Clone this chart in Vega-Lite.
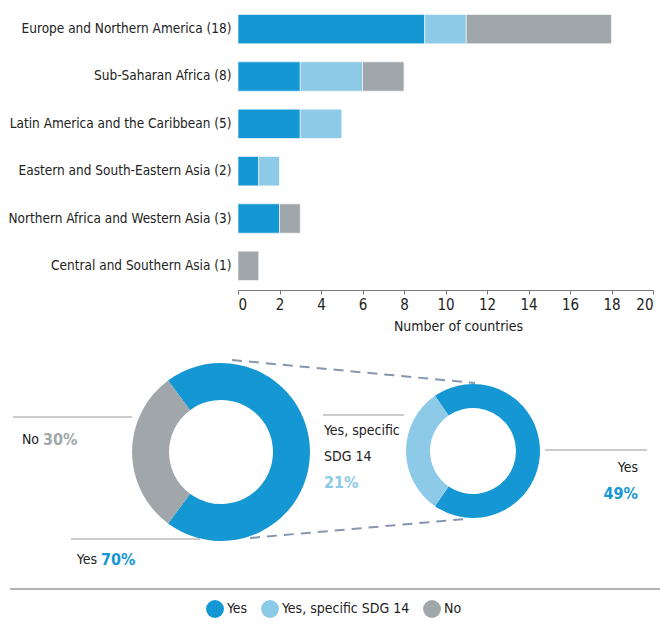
{
  "$schema": "https://vega.github.io/schema/vega-lite/v6.json",
  "padding": 5,
  "background": "white",
  "spacing": 8,
  "config": {
    "view": {"stroke": null},
    "font": "DejaVu Sans Condensed, sans-serif"
  },
  "datasets": {
    "regions": [
      {"region": "Europe and Northern America (18)", "status": "Yes", "n": 9},
      {"region": "Europe and Northern America (18)", "status": "Yes, specific SDG 14", "n": 2},
      {"region": "Europe and Northern America (18)", "status": "No", "n": 7},
      {"region": "Sub-Saharan Africa (8)", "status": "Yes", "n": 3},
      {"region": "Sub-Saharan Africa (8)", "status": "Yes, specific SDG 14", "n": 3},
      {"region": "Sub-Saharan Africa (8)", "status": "No", "n": 2},
      {"region": "Latin America and the Caribbean (5)", "status": "Yes", "n": 3},
      {"region": "Latin America and the Caribbean (5)", "status": "Yes, specific SDG 14", "n": 2},
      {"region": "Eastern and South-Eastern Asia (2)", "status": "Yes", "n": 1},
      {"region": "Eastern and South-Eastern Asia (2)", "status": "Yes, specific SDG 14", "n": 1},
      {"region": "Northern Africa and Western Asia (3)", "status": "Yes", "n": 2},
      {"region": "Northern Africa and Western Asia (3)", "status": "No", "n": 1},
      {"region": "Central and Southern Asia (1)", "status": "No", "n": 1}
    ],
    "overall": [
      {"status": "Yes", "n": 26},
      {"status": "No", "n": 11}
    ],
    "amongYes": [
      {"status": "Yes", "n": 18},
      {"status": "Yes, specific SDG 14", "n": 8}
    ]
  },
  "vconcat": [
    {
      "width": 415,
      "height": 285,
      "data": {"name": "regions"},
      "transform": [
        {"calculate": "indexof(['Yes','Yes, specific SDG 14','No'], datum.status)", "as": "ord"}
      ],
      "mark": {"type": "bar", "stroke": "white", "strokeWidth": 0.6},
      "encoding": {
        "y": {
          "field": "region",
          "type": "nominal",
          "sort": [
            "Europe and Northern America (18)",
            "Sub-Saharan Africa (8)",
            "Latin America and the Caribbean (5)",
            "Eastern and South-Eastern Asia (2)",
            "Northern Africa and Western Asia (3)",
            "Central and Southern Asia (1)"
          ],
          "scale": {"paddingInner": 0.38, "paddingOuter": 0.2},
          "axis": {
            "title": null,
            "ticks": false,
            "domain": false,
            "labelPadding": 7,
            "labelFontSize": 13.5,
            "labelColor": "#222",
            "labelLimit": 300,
            "minExtent": 233,
            "maxExtent": 233
          }
        },
        "x": {
          "field": "n",
          "type": "quantitative",
          "stack": "zero",
          "scale": {"domain": [0, 20], "nice": false},
          "axis": {
            "title": "Number of countries",
            "values": [0, 2, 4, 6, 8, 10, 12, 14, 16, 18, 20],
            "grid": false,
            "domainColor": "#777",
            "tickColor": "#777",
            "tickSize": 4,
            "labelFontSize": 15,
            "labelColor": "#222",
            "labelPadding": 3,
            "titleFontSize": 14,
            "titleFontWeight": "normal",
            "titleColor": "#222",
            "titlePadding": 7,
            "titleX": 220
          }
        },
        "color": {
          "field": "status",
          "type": "nominal",
          "scale": {
            "domain": ["Yes", "Yes, specific SDG 14", "No"],
            "range": ["#1597d4", "#8dcae8", "#a0a7aa"]
          },
          "legend": {
            "orient": "none",
            "legendX": -32,
            "legendY": 595,
            "direction": "horizontal",
            "title": null,
            "symbolType": "circle",
            "symbolSize": 320,
            "symbolStrokeWidth": 0,
            "symbolOpacity": 1,
            "labelFontSize": 14,
            "labelColor": "#222",
            "labelOffset": 3,
            "columnPadding": 13
          }
        },
        "order": {"field": "ord", "type": "quantitative"}
      }
    },
    {
      "width": 415,
      "height": 260,
      "data": {"values": [{}]},
      "resolve": {"scale": {"theta": "independent"}},
      "layer": [
        {
          "mark": {"type": "rule", "color": "#666", "strokeWidth": 1},
          "encoding": {
            "x": {"datum": 5, "type": "quantitative", "scale": {"domain": [233, 648], "nice": false, "zero": false}, "axis": null},
            "y": {"datum": 248, "type": "quantitative", "scale": {"domain": [0, 260], "nice": false, "zero": false, "reverse": true}, "axis": null},
            "x2": {"datum": 655},
            "y2": {"datum": 248}
          }
        },
        {
          "mark": {"type": "rule", "color": "#999", "strokeWidth": 1},
          "encoding": {
            "x": {"datum": 8, "type": "quantitative", "axis": null},
            "y": {"datum": 76, "type": "quantitative", "axis": null},
            "x2": {"datum": 127},
            "y2": {"datum": 76}
          }
        },
        {
          "mark": {"type": "rule", "color": "#999", "strokeWidth": 1},
          "encoding": {
            "x": {"datum": 66, "type": "quantitative", "axis": null},
            "y": {"datum": 198, "type": "quantitative", "axis": null},
            "x2": {"datum": 195},
            "y2": {"datum": 198}
          }
        },
        {
          "mark": {"type": "rule", "color": "#999", "strokeWidth": 1},
          "encoding": {
            "x": {"datum": 318, "type": "quantitative", "axis": null},
            "y": {"datum": 74, "type": "quantitative", "axis": null},
            "x2": {"datum": 399},
            "y2": {"datum": 74}
          }
        },
        {
          "mark": {"type": "rule", "color": "#999", "strokeWidth": 1},
          "encoding": {
            "x": {"datum": 540, "type": "quantitative", "axis": null},
            "y": {"datum": 109, "type": "quantitative", "axis": null},
            "x2": {"datum": 642},
            "y2": {"datum": 109}
          }
        },
        {
          "mark": {"type": "rule", "color": "#8896ad", "strokeWidth": 2, "strokeDash": [10, 7]},
          "encoding": {
            "x": {"datum": 227, "type": "quantitative", "axis": null},
            "y": {"datum": 19, "type": "quantitative", "axis": null},
            "x2": {"datum": 470},
            "y2": {"datum": 42}
          }
        },
        {
          "mark": {"type": "rule", "color": "#8896ad", "strokeWidth": 2, "strokeDash": [10, 7]},
          "encoding": {
            "x": {"datum": 245, "type": "quantitative", "axis": null},
            "y": {"datum": 197, "type": "quantitative", "axis": null},
            "x2": {"datum": 460},
            "y2": {"datum": 178}
          }
        },
        {
          "data": {"name": "overall"},
          "mark": {"type": "arc", "outerRadius": 89, "innerRadius": 52},
          "encoding": {
            "x": {"datum": 216, "type": "quantitative", "axis": null},
            "y": {"datum": 111, "type": "quantitative", "axis": null},
            "theta": {"field": "n", "type": "quantitative", "stack": true, "scale": {"range": [3.7786, 10.0618]}},
            "color": {"field": "status", "type": "nominal", "legend": null},
            "order": {"field": "status", "sort": "ascending"}
          }
        },
        {
          "data": {"name": "amongYes"},
          "mark": {"type": "arc", "outerRadius": 67, "innerRadius": 43},
          "encoding": {
            "x": {"datum": 468, "type": "quantitative", "axis": null},
            "y": {"datum": 110, "type": "quantitative", "axis": null},
            "theta": {"field": "n", "type": "quantitative", "stack": true, "scale": {"range": [-0.6039, 5.6793]}},
            "color": {"field": "status", "type": "nominal", "legend": null},
            "order": {"field": "status", "sort": "ascending"}
          }
        },
        {
          "mark": {"type": "text", "align": "right", "baseline": "middle", "fontSize": 14, "color": "#222"},
          "encoding": {
            "x": {"datum": 34, "type": "quantitative", "axis": null},
            "y": {"datum": 99, "type": "quantitative", "axis": null},
            "text": {"value": "No"}
          }
        },
        {
          "mark": {"type": "text", "align": "left", "baseline": "middle", "fontSize": 16, "fontWeight": "bold"},
          "encoding": {
            "x": {"datum": 38, "type": "quantitative", "axis": null},
            "y": {"datum": 99, "type": "quantitative", "axis": null},
            "text": {"value": "30%"},
            "color": {"datum": "No", "type": "nominal", "legend": null}
          }
        },
        {
          "mark": {"type": "text", "align": "right", "baseline": "middle", "fontSize": 14, "color": "#222"},
          "encoding": {
            "x": {"datum": 92, "type": "quantitative", "axis": null},
            "y": {"datum": 219, "type": "quantitative", "axis": null},
            "text": {"value": "Yes"}
          }
        },
        {
          "mark": {"type": "text", "align": "left", "baseline": "middle", "fontSize": 16, "fontWeight": "bold"},
          "encoding": {
            "x": {"datum": 96, "type": "quantitative", "axis": null},
            "y": {"datum": 219, "type": "quantitative", "axis": null},
            "text": {"value": "70%"},
            "color": {"datum": "Yes", "type": "nominal", "legend": null}
          }
        },
        {
          "mark": {"type": "text", "align": "left", "baseline": "middle", "fontSize": 14, "color": "#222"},
          "encoding": {
            "x": {"datum": 319, "type": "quantitative", "axis": null},
            "y": {"datum": 90, "type": "quantitative", "axis": null},
            "text": {"value": "Yes, specific"}
          }
        },
        {
          "mark": {"type": "text", "align": "left", "baseline": "middle", "fontSize": 14, "color": "#222"},
          "encoding": {
            "x": {"datum": 319, "type": "quantitative", "axis": null},
            "y": {"datum": 116, "type": "quantitative", "axis": null},
            "text": {"value": "SDG 14"}
          }
        },
        {
          "mark": {"type": "text", "align": "left", "baseline": "middle", "fontSize": 16, "fontWeight": "bold"},
          "encoding": {
            "x": {"datum": 319, "type": "quantitative", "axis": null},
            "y": {"datum": 142, "type": "quantitative", "axis": null},
            "text": {"value": "21%"},
            "color": {"datum": "Yes, specific SDG 14", "type": "nominal", "legend": null}
          }
        },
        {
          "mark": {"type": "text", "align": "right", "baseline": "middle", "fontSize": 14, "color": "#222"},
          "encoding": {
            "x": {"datum": 633, "type": "quantitative", "axis": null},
            "y": {"datum": 127, "type": "quantitative", "axis": null},
            "text": {"value": "Yes"}
          }
        },
        {
          "mark": {"type": "text", "align": "right", "baseline": "middle", "fontSize": 16, "fontWeight": "bold"},
          "encoding": {
            "x": {"datum": 633, "type": "quantitative", "axis": null},
            "y": {"datum": 153, "type": "quantitative", "axis": null},
            "text": {"value": "49%"},
            "color": {"datum": "Yes", "type": "nominal", "legend": null}
          }
        }
      ]
    }
  ]
}
